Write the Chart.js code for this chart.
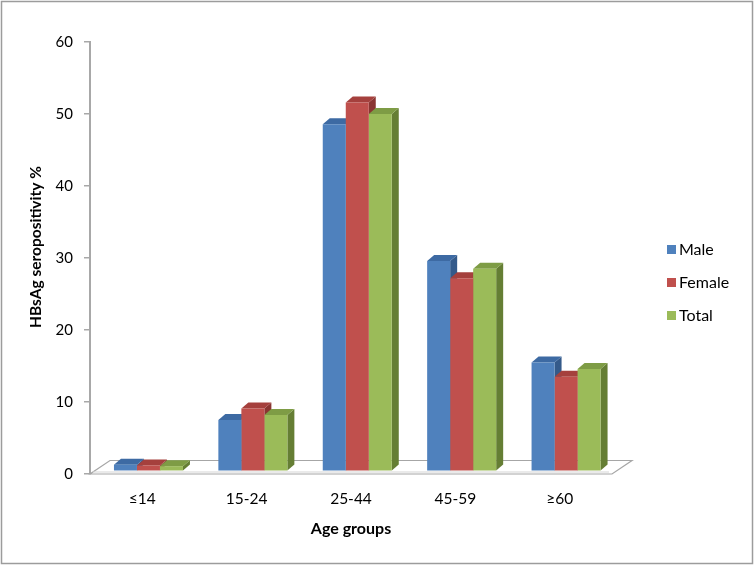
<!DOCTYPE html>
<html><head><meta charset="utf-8">
<script src="https://cdn.jsdelivr.net/npm/chart.js@4.4.1/dist/chart.umd.min.js"></script>
<style>html,body{margin:0;padding:0;background:#fff}#wrap{width:754px;height:565px;position:relative}</style>
</head><body><div id="wrap"><canvas id="c"></canvas></div>
<script>
const categories = ['≤14', '15-24', '25-44', '45-59', '≥60'];
const seriesNames = ['Male', 'Female', 'Total'];
const maleValues = [0.8, 7.0, 48.1, 29.1, 15.0];
const femaleValues = [0.7, 8.6, 51.1, 26.7, 13.0];
const totalValues = [0.6, 7.7, 49.5, 28.0, 14.1];
const yTicks = [0, 10, 20, 30, 40, 50, 60];
const xTitle = 'Age groups';
const yTitle = 'HBsAg seropositivity %';

const frontColors = ['#4F81BD', '#C0504D', '#9BBB59'];
const topColors = ['#3D6AA3', '#A5403D', '#7E9C45'];
const sideColors = ['#345A8A', '#8A3532', '#657E34'];
const seriesValues = [maleValues, femaleValues, totalValues];

Chart.defaults.font.family = 'Lato';

const decor = {
  id: 'decor',
  beforeDraw(chart) {
    const ctx = chart.ctx;
    ctx.save();
    ctx.fillStyle = '#fff';
    ctx.fillRect(0, 0, chart.width, chart.height);
    ctx.strokeStyle = '#9C9C9C';
    ctx.lineWidth = 1.5;
    ctx.strokeRect(1.5, 1.5, chart.width - 3, chart.height - 3);
    ctx.restore();
  },
  beforeDatasetsDraw(chart) {
    const ctx = chart.ctx, a = chart.chartArea;
    const y0 = chart.scales.y.getPixelForValue(0);
    const fdx = 20, fdy = -13.5;
    ctx.save();
    ctx.strokeStyle = '#A6A6A6';
    ctx.lineWidth = 1.2;
    ctx.beginPath();
    ctx.moveTo(a.left, y0);
    ctx.lineTo(a.right, y0);
    ctx.lineTo(a.right + fdx, y0 + fdy);
    ctx.lineTo(a.left + fdx, y0 + fdy);
    ctx.closePath();
    ctx.stroke();
    ctx.strokeStyle = '#D6D6D6';
    ctx.beginPath();
    ctx.moveTo(a.left + 3, y0 - 2);
    ctx.lineTo(a.right - 3, y0 - 2);
    ctx.stroke();
    const dx = 7, dy = -6;
    const metas = chart.data.datasets.map((d, i) => chart.getDatasetMeta(i));
    metas.forEach((m, s) => m.data.forEach(bar => {
      const p = bar.getProps(['x', 'y', 'base', 'width'], true);
      const r = p.x + p.width / 2;
      ctx.beginPath();
      ctx.moveTo(r, p.y); ctx.lineTo(r + dx, p.y + dy);
      ctx.lineTo(r + dx, p.base + dy); ctx.lineTo(r, p.base);
      ctx.closePath();
      ctx.fillStyle = sideColors[s]; ctx.fill();
    }));
    metas.forEach((m, s) => m.data.forEach(bar => {
      const p = bar.getProps(['x', 'y', 'base', 'width'], true);
      const l = p.x - p.width / 2, r = p.x + p.width / 2;
      ctx.beginPath();
      ctx.moveTo(l, p.y); ctx.lineTo(l + dx, p.y + dy);
      ctx.lineTo(r + dx, p.y + dy); ctx.lineTo(r, p.y);
      ctx.closePath();
      ctx.fillStyle = topColors[s]; ctx.fill();
    }));
    ctx.restore();
  },
  afterDraw(chart) {
    const ctx = chart.ctx, a = chart.chartArea;
    ctx.save();
    ctx.translate(36, (a.top + a.bottom) / 2 - 11);
    ctx.rotate(-Math.PI / 2);
    ctx.fillStyle = '#000';
    ctx.font = 'bold 15.5px Lato';
    ctx.textAlign = 'center';
    ctx.textBaseline = 'middle';
    ctx.fillText(yTitle, 0, 0);
    ctx.restore();
    ctx.save();
    const ds = chart.data.datasets;
    const lx = a.right + 55, cy = chart.height / 2, gap = 33;
    ctx.font = '16px Lato';
    ctx.textBaseline = 'middle';
    ctx.textAlign = 'left';
    ds.forEach((d, i) => {
      const yy = cy + (i - (ds.length - 1) / 2) * gap;
      ctx.fillStyle = d.backgroundColor;
      ctx.fillRect(lx, yy - 4.5, 9, 9);
      ctx.fillStyle = '#000';
      ctx.fillText(d.label, lx + 12, yy + 0.5);
    });
    ctx.restore();
  }
};

new Chart(document.getElementById('c'), {
  type: 'bar',
  data: {
    labels: categories,
    datasets: seriesValues.map((vals, s) => ({
      label: seriesNames[s],
      data: vals.map((v, i) => ({ x: i, y: v })),
      backgroundColor: frontColors[s],
      borderWidth: 0,
      xAxisID: 'xb',
      yAxisID: 'yb',
      categoryPercentage: 0.661,
      barPercentage: 1.0
    }))
  },
  options: {
    responsive: true,
    maintainAspectRatio: false,
    animation: false,
    layout: { padding: { left: 0, top: 42, right: 142, bottom: 0 } },
    plugins: { legend: { display: false }, tooltip: { enabled: false } },
    scales: {
      x: {
        type: 'category', position: 'bottom', offset: true,
        grid: { display: false, drawTicks: false },
        border: { display: false },
        ticks: { font: { family: 'Lato', size: 15.5 }, color: '#000', padding: 16, maxRotation: 0, autoSkip: false },
        title: { display: true, text: xTitle, color: '#000', font: { family: 'Lato', size: 16, weight: 'bold' }, padding: { top: 0, bottom: 27 } },
        afterFit(s) { s.height = 91; }
      },
      xb: {
        type: 'linear', display: false, position: 'bottom', offset: false,
        grid: { offset: false },
        min: -0.56, max: 4.44,
        afterBuildTicks(s) { s.ticks = categories.map((c, i) => ({ value: i })); }
      },
      y: {
        type: 'linear', position: 'left', min: 0, max: 60,
        afterBuildTicks(s) { s.ticks = yTicks.map(v => ({ value: v })); },
        grid: { display: true, drawOnChartArea: false, drawTicks: true, tickLength: 6, color: '#A8A8A8', lineWidth: 1.5 },
        border: { display: true, color: '#A8A8A8', width: 2 },
        ticks: { font: { family: 'Lato', size: 15 }, color: '#000', padding: 11 },
        afterFit(s) { s.width = 90; }
      },
      yb: { type: 'linear', display: false, position: 'left', min: -0.49, max: 59.51 }
    }
  },
  plugins: [decor]
});
</script>
</body></html>
